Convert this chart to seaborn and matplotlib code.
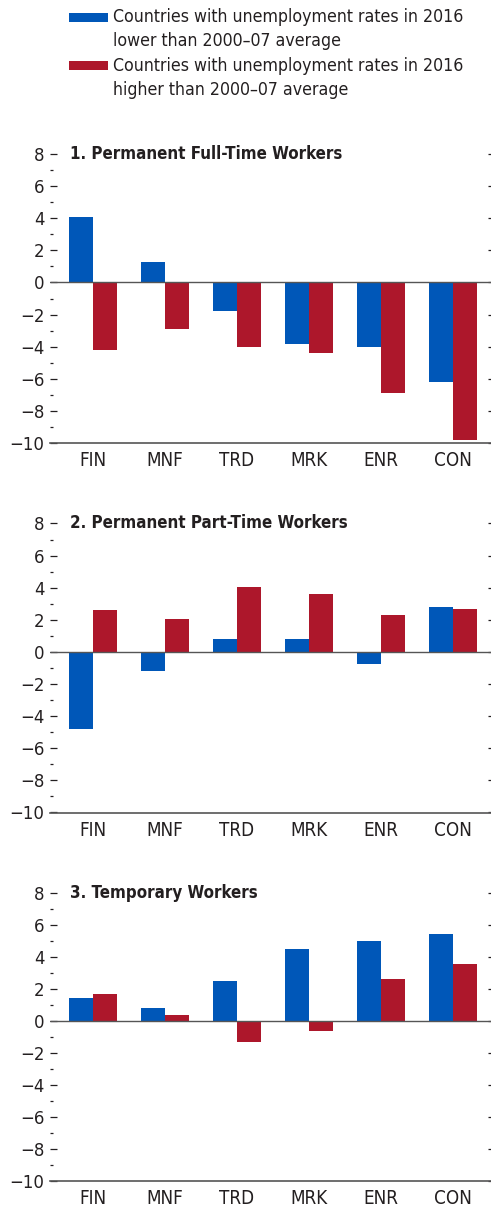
import pandas as pd
import matplotlib
matplotlib.use("Agg")
import matplotlib.pyplot as plt
import seaborn as sns
from matplotlib.patches import Rectangle
from matplotlib.ticker import FixedLocator

# ---------------------------
# Data
# ---------------------------
sectors = ["FIN", "MNF", "TRD", "MRK", "ENR", "CON"]
series_names = [
    "Countries with unemployment rates in 2016\nlower than 2000\u201307 average",
    "Countries with unemployment rates in 2016\nhigher than 2000\u201307 average",
]
panel_titles = [
    "1. Permanent Full-Time Workers",
    "2. Permanent Part-Time Workers",
    "3. Temporary Workers",
]

full_time_low = [4.1, 1.25, -1.8, -3.85, -4.05, -6.2]
full_time_high = [-4.2, -2.9, -4.0, -4.4, -6.9, -9.8]

part_time_low = [-4.8, -1.2, 0.82, 0.82, -0.72, 2.8]
part_time_high = [2.6, 2.05, 4.05, 3.6, 2.3, 2.7]

temporary_low = [1.4, 0.77, 2.45, 4.45, 4.95, 5.4]
temporary_high = [1.65, 0.33, -1.3, -0.67, 2.6, 3.55]

panels = [
    (full_time_low, full_time_high),
    (part_time_low, part_time_high),
    (temporary_low, temporary_high),
]

blue = "#0057b8"
red = "#ad172b"
ink = "#231f20"

sns.set_style("white")
plt.rcParams["font.family"] = ["DejaVu Sans"]
plt.rcParams["font.stretch"] = "condensed"

W, H = 491, 1209
fig = plt.figure(figsize=(W / 100, H / 100), dpi=100)

# axes boxes in pixels: (top at y=8, bottom at y=-10)
boxes = [(154, 443), (523.5, 812.5), (892.5, 1181)]
left_px, right_px = 50, 491

for (low, high), title, (top, bot) in zip(panels, panel_titles, boxes):
    ax = fig.add_axes([left_px / W, 1 - bot / H, (right_px - left_px) / W, (bot - top) / H])
    df = pd.DataFrame({
        "sector": sectors * 2,
        "value": low + high,
        "group": [series_names[0]] * len(sectors) + [series_names[1]] * len(sectors),
    })
    sns.barplot(data=df, x="sector", y="value", hue="group", order=sectors,
                hue_order=series_names, palette=[blue, red], width=0.667,
                saturation=1, legend=False, ax=ax, linewidth=0)

    ax.set_xlim(-43 / 72, 5 + 38 / 72)
    ax.set_ylim(-10, 8)
    ax.axhline(0, color="#555555", lw=1.0, zorder=3)

    for s in ["top", "right", "left"]:
        ax.spines[s].set_visible(False)
    ax.spines["bottom"].set_color("#555555")
    ax.spines["bottom"].set_linewidth(1.2)

    # y ticks: majors every 2, minors at odd values
    ax.set_yticks(range(-10, 9, 2))
    ax.set_yticklabels([str(v).replace("-", "\u2212") for v in range(-10, 9, 2)])
    ax.yaxis.set_minor_locator(FixedLocator(list(range(-9, 8, 2))))
    ax.tick_params(axis="y", which="major", direction="in", length=5, width=0.9,
                   color=ink, labelsize=13.2, labelcolor=ink, pad=4, left=True, right=True)
    ax.tick_params(axis="y", which="minor", direction="in", length=2, width=0.9,
                   color=ink, left=True, right=False)
    for t in ax.yaxis.get_major_ticks():
        t.tick2line.set_markersize(2.2)

    # x: separators as major ticks, labels on minor ticks
    ax.set_xticks([i + 0.5 for i in range(len(sectors) - 1)])
    ax.set_xticklabels([])
    ax.set_xticks(range(len(sectors)), minor=True)
    ax.set_xticklabels(sectors, minor=True)
    ax.tick_params(axis="x", which="major", direction="in", length=5, width=1.0, color="#555555")
    ax.tick_params(axis="x", which="minor", length=0, labelsize=13.5, labelcolor=ink, pad=6)
    ax.set_xlabel("")
    ax.set_ylabel("")

    ax.text(20 / 441, 1.0, title, transform=ax.transAxes, va="center", ha="left",
            fontsize=12.2, fontweight="bold", color=ink)

# legend: colour swatch next to first line of each two-line label
for i, (name, col) in enumerate(zip(series_names, [blue, red])):
    y_top = 12.7 + i * 48.5
    fig.patches.append(Rectangle((69 / W, 1 - (y_top + 9) / H), 39 / W, 9 / H,
                                 transform=fig.transFigure, facecolor=col,
                                 edgecolor="none"))
    fig.text(113 / W, 1 - (y_top + 4.5) / H, name.split("\n")[0], ha="left",
             va="center", fontsize=12.7, color=ink)
    fig.text(113 / W, 1 - (y_top + 28.5) / H, name.split("\n")[1], ha="left",
             va="center", fontsize=12.7, color=ink)

fig.savefig("out.png", dpi=100)
